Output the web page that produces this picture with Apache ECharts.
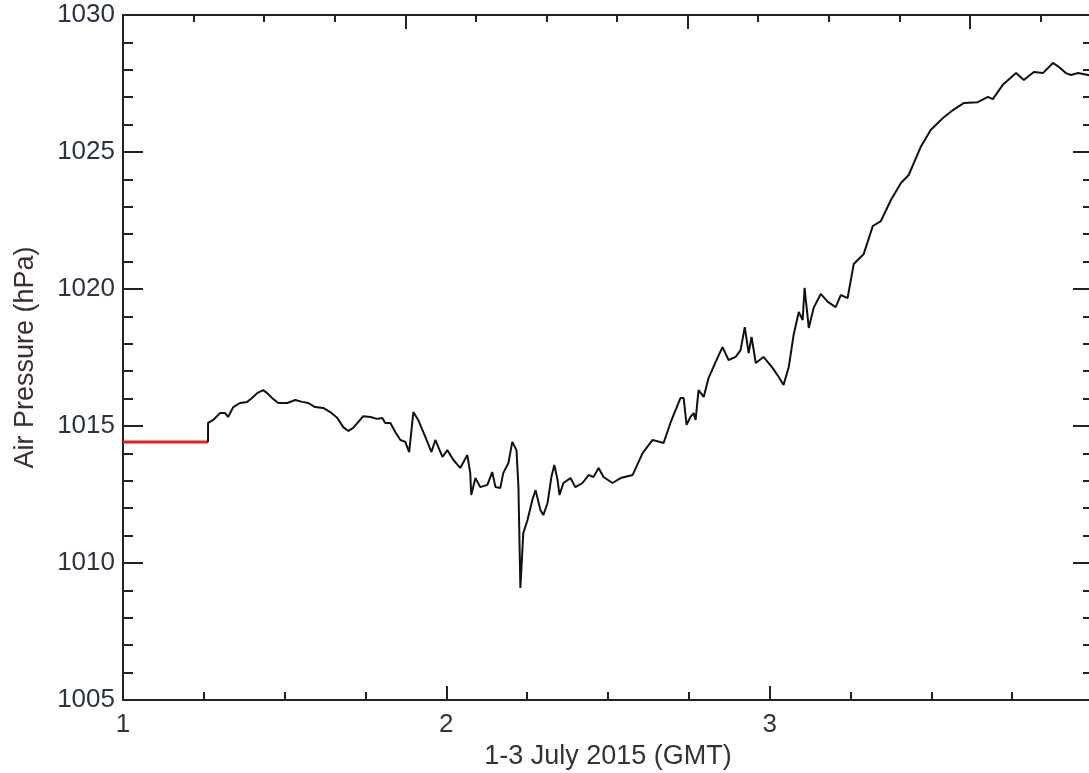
<!DOCTYPE html>
<html>
<head>
<meta charset="utf-8">
<script src="https://cdn.jsdelivr.net/npm/echarts@6/dist/echarts.min.js"></script>
<style>
html,body{margin:0;padding:0;background:#fff;overflow:hidden;}
#chart{width:1089px;height:773px;}
</style>
</head>
<body>
<div id="chart"></div>
<script>
// Time in days (1-3 July 2015, GMT)
const pressureTime = [
  1.263, 1.263, 1.279, 1.300, 1.316, 1.325, 1.341, 1.362, 1.384, 1.399, 1.415, 1.433, 1.446, 1.461, 1.480,
  1.508, 1.533, 1.554, 1.573, 1.594, 1.619, 1.641, 1.663, 1.681, 1.697, 1.712, 1.728, 1.743, 1.765,
  1.786, 1.802, 1.811, 1.827, 1.842, 1.858, 1.873, 1.885, 1.898, 1.913, 1.935, 1.954, 1.966, 1.988,
  2.003, 2.022, 2.043, 2.065, 2.074, 2.077, 2.090, 2.105, 2.127, 2.142, 2.152, 2.167, 2.176, 2.192,
  2.204, 2.217, 2.223, 2.229, 2.238, 2.251, 2.266, 2.276, 2.291, 2.300, 2.313, 2.325, 2.334, 2.344,
  2.350, 2.362, 2.384, 2.399, 2.421, 2.440, 2.455, 2.471, 2.486, 2.514, 2.539, 2.576, 2.607, 2.638,
  2.672, 2.693, 2.724, 2.734, 2.743, 2.755, 2.765, 2.771, 2.780, 2.796, 2.811, 2.833, 2.854, 2.873,
  2.895, 2.910, 2.923, 2.935, 2.944, 2.957, 2.981, 3.009, 3.028, 3.043, 3.059, 3.074, 3.090, 3.102,
  3.108, 3.121, 3.136, 3.158, 3.180, 3.204, 3.220, 3.241, 3.260, 3.291, 3.303, 3.319, 3.344, 3.375,
  3.406, 3.430, 3.467, 3.498, 3.536, 3.567, 3.601, 3.644, 3.675, 3.690, 3.721, 3.762, 3.786, 3.817,
  3.845, 3.876, 3.895, 3.916, 3.932, 3.954, 3.985, 4.000
];
// Air pressure (hPa), black measured trace
const pressureValue = [
  1014.42, 1015.11, 1015.22, 1015.47, 1015.47, 1015.33, 1015.69, 1015.84, 1015.88, 1016.02, 1016.20, 1016.31, 1016.20, 1016.02, 1015.84,
  1015.84, 1015.95, 1015.88, 1015.84, 1015.69, 1015.66, 1015.51, 1015.29, 1014.96, 1014.82, 1014.93, 1015.15, 1015.36, 1015.33,
  1015.26, 1015.29, 1015.11, 1015.11, 1014.78, 1014.49, 1014.42, 1014.05, 1015.51, 1015.22, 1014.60, 1014.05, 1014.49, 1013.87,
  1014.12, 1013.76, 1013.47, 1013.94, 1013.28, 1012.48, 1013.10, 1012.77, 1012.85, 1013.32, 1012.77, 1012.74, 1013.28, 1013.65,
  1014.42, 1014.12, 1012.77, 1009.09, 1011.09, 1011.57, 1012.30, 1012.66, 1011.93, 1011.75, 1012.19, 1013.14, 1013.58, 1013.03,
  1012.48, 1012.92, 1013.10, 1012.77, 1012.92, 1013.21, 1013.14, 1013.47, 1013.14, 1012.92, 1013.10, 1013.21, 1014.01, 1014.49,
  1014.38, 1015.11, 1016.02, 1016.02, 1015.04, 1015.33, 1015.47, 1015.22, 1016.31, 1016.06, 1016.75, 1017.34, 1017.88, 1017.41,
  1017.52, 1017.77, 1018.61, 1017.66, 1018.25, 1017.30, 1017.52, 1017.12, 1016.79, 1016.50, 1017.15, 1018.32, 1019.16, 1018.87,
  1020.04, 1018.58, 1019.31, 1019.82, 1019.53, 1019.34, 1019.78, 1019.67, 1020.91, 1021.28, 1021.72, 1022.30, 1022.48, 1023.25,
  1023.87, 1024.16, 1025.18, 1025.80, 1026.24, 1026.53, 1026.79, 1026.82, 1027.01, 1026.93, 1027.45, 1027.88, 1027.63, 1027.92,
  1027.88, 1028.25, 1028.10, 1027.88, 1027.81, 1027.88, 1027.81, 1027.77
];
// Red segment (gap-filled level)
const gapTime = [1.000, 1.263];
const gapValue = [1014.42, 1014.42];

const yTicks = [1005, 1010, 1015, 1020, 1025, 1030];
const xTicks = [1, 2, 3];
const xTitle = '1-3 July 2015 (GMT)';
const yTitle = 'Air Pressure (hPa)';

const blackData = pressureTime.map((t, i) => [t, pressureValue[i]]);
const redData = gapTime.map((t, i) => [t, gapValue[i]]);

const FONT = 'Liberation Sans, Arial, sans-serif';
const axisLine = {show: true, onZero: false, lineStyle: {color: '#222', width: 2}};
const tickStyle = {color: '#222', width: 2};
const gridRect = {left: 123, top: 15, width: 970, height: 685, containLabel: false, outerBoundsMode: 'none'};

const chart = echarts.init(document.getElementById('chart'), null, {renderer: 'canvas'});
chart.setOption({
  animation: false,
  backgroundColor: '#fff',
  grid: [Object.assign({}, gridRect), Object.assign({}, gridRect)],
  xAxis: [
    {
      gridIndex: 0, type: 'value', position: 'bottom', min: 1, max: 4, interval: 1,
      axisLine: axisLine,
      axisTick: {show: true, inside: true, length: 14, lineStyle: tickStyle},
      minorTick: {show: true, splitNumber: 4, length: 8, lineStyle: tickStyle},
      splitLine: {show: false},
      axisLabel: {
        margin: 12, fontFamily: FONT, fontSize: 26, color: '#3a2f3f',
        formatter: v => (xTicks.indexOf(v) >= 0 ? String(v) : '')
      },
      name: xTitle, nameLocation: 'middle', nameGap: 41,
      nameTextStyle: {fontFamily: FONT, fontSize: 27, color: '#333'}
    },
    {
      gridIndex: 0, type: 'value', position: 'top', min: 0, max: 13.745, interval: 1,
      axisLine: axisLine,
      axisTick: {show: true, inside: true, length: 7, lineStyle: tickStyle},
      splitLine: {show: false},
      axisLabel: {show: false}
    },
    {
      gridIndex: 1, type: 'value', position: 'top', min: 0, max: 13.745, interval: 4,
      axisLine: {show: false, onZero: false},
      axisTick: {show: true, inside: true, length: 14, lineStyle: tickStyle},
      splitLine: {show: false},
      axisLabel: {show: false}
    }
  ],
  yAxis: [
    {
      gridIndex: 0, type: 'value', position: 'left', min: 1005, max: 1030, interval: 5,
      axisLine: axisLine,
      axisTick: {show: true, inside: true, length: 20, lineStyle: tickStyle},
      minorTick: {show: true, splitNumber: 5, length: 10, lineStyle: tickStyle},
      splitLine: {show: false},
      axisLabel: {
        margin: 8, fontFamily: FONT, fontSize: 26, color: '#2b3242',
        formatter: v => (yTicks.indexOf(v) >= 0 ? String(v) : '')
      },
      name: yTitle, nameLocation: 'middle', nameGap: 84, nameRotate: 90,
      nameTextStyle: {fontFamily: FONT, fontSize: 27, color: '#3a3030'}
    },
    {
      gridIndex: 0, type: 'value', position: 'right', min: 1005, max: 1030, interval: 5,
      axisLine: axisLine,
      axisTick: {show: true, inside: true, length: 20, lineStyle: tickStyle},
      minorTick: {show: true, splitNumber: 5, length: 10, lineStyle: tickStyle},
      splitLine: {show: false},
      axisLabel: {show: false}
    },
    {
      gridIndex: 1, type: 'value', min: 1, max: 2, show: false,
      axisLine: {show: false, onZero: false}
    }
  ],
  series: [
    {
      type: 'line', xAxisIndex: 0, yAxisIndex: 0, data: redData,
      showSymbol: false, symbol: 'none',
      lineStyle: {color: '#e8201c', width: 3}, z: 3
    },
    {
      type: 'line', xAxisIndex: 0, yAxisIndex: 0, data: blackData,
      showSymbol: false, symbol: 'none',
      lineStyle: {color: '#111', width: 2}, z: 4
    }
  ]
});
</script>
</body>
</html>
